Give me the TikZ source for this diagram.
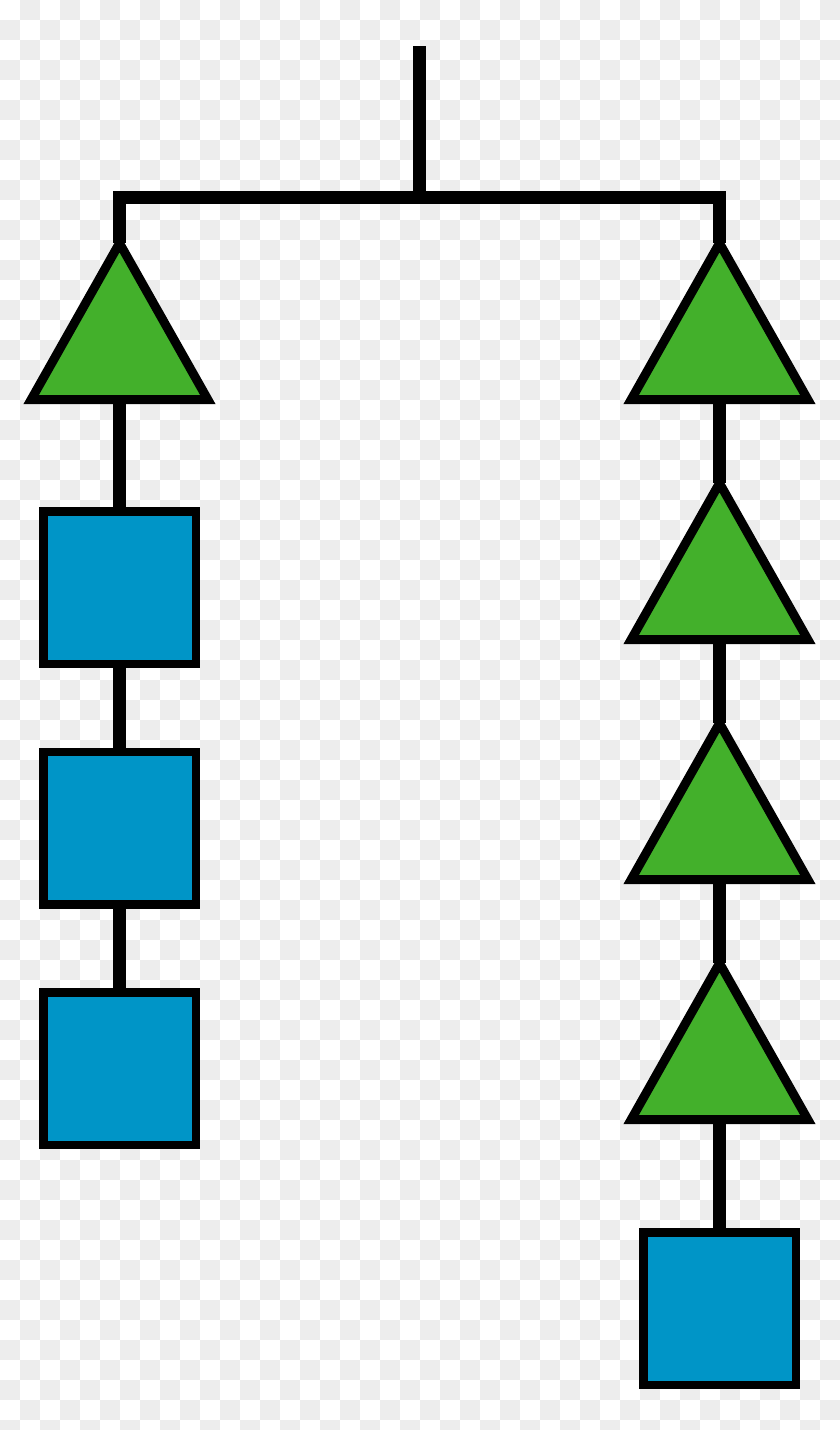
\documentclass[tikz,border=0pt]{standalone}
\usetikzlibrary{backgrounds}
\definecolor{checkgray}{RGB}{237,237,237}
\definecolor{trigreen}{RGB}{67,176,43}
\definecolor{sqblue}{RGB}{0,149,199}
\tikzset{
  conn/.style={draw=black,line width=6.75pt,line cap=butt,line join=miter},
  sqbox/.style={draw=black,fill=sqblue,line width=4.25pt,minimum size=76.25pt,inner sep=0pt,outer sep=0pt},
  tribox/.style={draw=black,fill=trigreen,line width=4.5pt,line join=miter},
}
\begin{document}
\begin{tikzpicture}[x=0.5pt,y=-0.5pt]
\useasboundingbox (0,0) rectangle (840,1430);
% named coordinates
\coordinate (stemtop) at (419.5,46);
\coordinate (stembot) at (419.5,197.5);
\coordinate (barL) at (119.5,197.5);
\coordinate (barR) at (719.5,197.5);
\foreach \k in {1,...,4}{
  \pgfmathsetmacro\by{399.5+240*(\k-1)}
  \coordinate (tR\k a) at (719.5,\by-156.3);
  \coordinate (tR\k b) at (719.5,\by);
}
\coordinate (tL1a) at (119.5,243.2);
\coordinate (tL1b) at (119.5,399.5);
% triangles
\foreach \n in {tL1,tR1,tR2,tR3,tR4}{
  \path[tribox] ([xshift=-44.15pt]\n b) -- ([xshift=44.15pt]\n b) -- (\n a) -- cycle;
}
% squares
\node[sqbox] (sqL1) at (119.5,587.5) {};
\node[sqbox] (sqL2) at (119.5,828) {};
\node[sqbox] (sqL3) at (119.5,1068.5) {};
\node[sqbox] (sqR) at (719.5,1308.5) {};
\begin{scope}[on background layer]
  \begin{scope}
    \clip (0,0) rectangle (840,1430);
    \foreach \j in {0,...,71}{
      \pgfmathtruncatemacro\off{1-mod(\j,2)}
      \foreach \i in {0,2,...,40}{
        \fill[checkgray] ({20*(\i+\off)},{20*\j}) rectangle ++(20,20);
      }
    }
  \end{scope}
  \draw[conn] (stemtop) -- (stembot);
  \draw[conn] (tL1a) -- (barL) -- (barR) -- (tR1a);
  \draw[conn] (tL1b) -- (sqL1.north);
  \draw[conn] (sqL1.south) -- (sqL2.north);
  \draw[conn] (sqL2.south) -- (sqL3.north);
  \draw[conn] (tR1b) -- (tR2a);
  \draw[conn] (tR2b) -- (tR3a);
  \draw[conn] (tR3b) -- (tR4a);
  \draw[conn] (tR4b) -- (sqR.north);
\end{scope}
\end{tikzpicture}
\end{document}
